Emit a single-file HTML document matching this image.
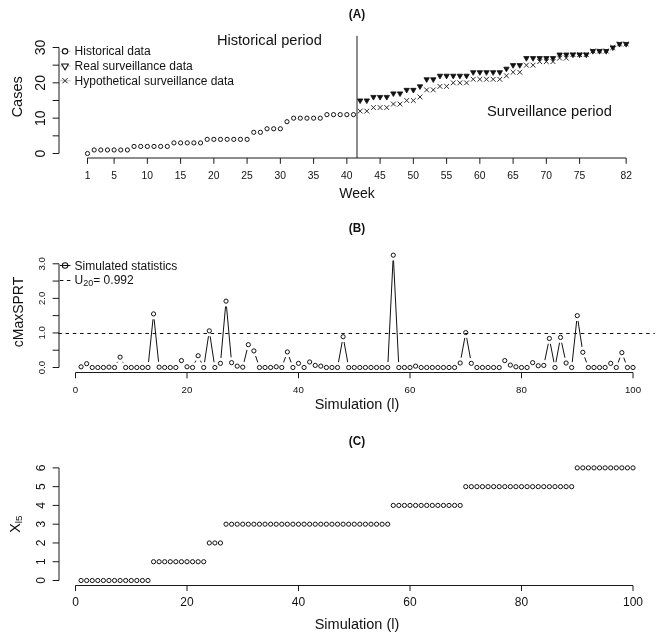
<!DOCTYPE html>
<html><head><meta charset="utf-8"><style>
html,body{margin:0;padding:0;background:#fff;}
body{width:664px;height:641px;overflow:hidden;}
svg{display:block;font-family:"Liberation Sans", sans-serif;filter:grayscale(1);}
</style></head><body>
<svg width="664" height="641" viewBox="0 0 664 641">
<rect width="664" height="641" fill="#fff"/>
<text x="0" y="0" font-size="12.8" text-anchor="middle" font-weight="bold" fill="#111" transform="translate(357.00 17.50) scale(0.92 1)">(A)</text>
<line x1="59.00" y1="153.50" x2="59.00" y2="47.50" stroke="#1a1a1a" stroke-width="1.0"/>
<line x1="52.60" y1="153.50" x2="59.00" y2="153.50" stroke="#1a1a1a" stroke-width="1.0"/>
<line x1="52.60" y1="135.83" x2="59.00" y2="135.83" stroke="#1a1a1a" stroke-width="1.0"/>
<line x1="52.60" y1="118.17" x2="59.00" y2="118.17" stroke="#1a1a1a" stroke-width="1.0"/>
<line x1="52.60" y1="100.50" x2="59.00" y2="100.50" stroke="#1a1a1a" stroke-width="1.0"/>
<line x1="52.60" y1="82.83" x2="59.00" y2="82.83" stroke="#1a1a1a" stroke-width="1.0"/>
<line x1="52.60" y1="65.17" x2="59.00" y2="65.17" stroke="#1a1a1a" stroke-width="1.0"/>
<line x1="52.60" y1="47.50" x2="59.00" y2="47.50" stroke="#1a1a1a" stroke-width="1.0"/>
<text x="45.00" y="153.50" font-size="14" text-anchor="middle" font-weight="normal" fill="#111" transform="rotate(-90 45.00 153.50)">0</text>
<text x="45.00" y="118.17" font-size="14" text-anchor="middle" font-weight="normal" fill="#111" transform="rotate(-90 45.00 118.17)">10</text>
<text x="45.00" y="82.83" font-size="14" text-anchor="middle" font-weight="normal" fill="#111" transform="rotate(-90 45.00 82.83)">20</text>
<text x="45.00" y="47.50" font-size="14" text-anchor="middle" font-weight="normal" fill="#111" transform="rotate(-90 45.00 47.50)">30</text>
<line x1="87.50" y1="158.00" x2="626.15" y2="158.00" stroke="#1a1a1a" stroke-width="1.0"/>
<line x1="87.50" y1="158.00" x2="87.50" y2="163.80" stroke="#1a1a1a" stroke-width="1.0"/>
<text x="87.50" y="179.30" font-size="10.3" text-anchor="middle" font-weight="normal" fill="#111">1</text>
<line x1="114.10" y1="158.00" x2="114.10" y2="163.80" stroke="#1a1a1a" stroke-width="1.0"/>
<text x="114.10" y="179.30" font-size="10.3" text-anchor="middle" font-weight="normal" fill="#111">5</text>
<line x1="147.35" y1="158.00" x2="147.35" y2="163.80" stroke="#1a1a1a" stroke-width="1.0"/>
<text x="147.35" y="179.30" font-size="10.3" text-anchor="middle" font-weight="normal" fill="#111">10</text>
<line x1="180.60" y1="158.00" x2="180.60" y2="163.80" stroke="#1a1a1a" stroke-width="1.0"/>
<text x="180.60" y="179.30" font-size="10.3" text-anchor="middle" font-weight="normal" fill="#111">15</text>
<line x1="213.85" y1="158.00" x2="213.85" y2="163.80" stroke="#1a1a1a" stroke-width="1.0"/>
<text x="213.85" y="179.30" font-size="10.3" text-anchor="middle" font-weight="normal" fill="#111">20</text>
<line x1="247.10" y1="158.00" x2="247.10" y2="163.80" stroke="#1a1a1a" stroke-width="1.0"/>
<text x="247.10" y="179.30" font-size="10.3" text-anchor="middle" font-weight="normal" fill="#111">25</text>
<line x1="280.35" y1="158.00" x2="280.35" y2="163.80" stroke="#1a1a1a" stroke-width="1.0"/>
<text x="280.35" y="179.30" font-size="10.3" text-anchor="middle" font-weight="normal" fill="#111">30</text>
<line x1="313.60" y1="158.00" x2="313.60" y2="163.80" stroke="#1a1a1a" stroke-width="1.0"/>
<text x="313.60" y="179.30" font-size="10.3" text-anchor="middle" font-weight="normal" fill="#111">35</text>
<line x1="346.85" y1="158.00" x2="346.85" y2="163.80" stroke="#1a1a1a" stroke-width="1.0"/>
<text x="346.85" y="179.30" font-size="10.3" text-anchor="middle" font-weight="normal" fill="#111">40</text>
<line x1="380.10" y1="158.00" x2="380.10" y2="163.80" stroke="#1a1a1a" stroke-width="1.0"/>
<text x="380.10" y="179.30" font-size="10.3" text-anchor="middle" font-weight="normal" fill="#111">45</text>
<line x1="413.35" y1="158.00" x2="413.35" y2="163.80" stroke="#1a1a1a" stroke-width="1.0"/>
<text x="413.35" y="179.30" font-size="10.3" text-anchor="middle" font-weight="normal" fill="#111">50</text>
<line x1="446.60" y1="158.00" x2="446.60" y2="163.80" stroke="#1a1a1a" stroke-width="1.0"/>
<text x="446.60" y="179.30" font-size="10.3" text-anchor="middle" font-weight="normal" fill="#111">55</text>
<line x1="479.85" y1="158.00" x2="479.85" y2="163.80" stroke="#1a1a1a" stroke-width="1.0"/>
<text x="479.85" y="179.30" font-size="10.3" text-anchor="middle" font-weight="normal" fill="#111">60</text>
<line x1="513.10" y1="158.00" x2="513.10" y2="163.80" stroke="#1a1a1a" stroke-width="1.0"/>
<text x="513.10" y="179.30" font-size="10.3" text-anchor="middle" font-weight="normal" fill="#111">65</text>
<line x1="546.35" y1="158.00" x2="546.35" y2="163.80" stroke="#1a1a1a" stroke-width="1.0"/>
<text x="546.35" y="179.30" font-size="10.3" text-anchor="middle" font-weight="normal" fill="#111">70</text>
<line x1="579.60" y1="158.00" x2="579.60" y2="163.80" stroke="#1a1a1a" stroke-width="1.0"/>
<text x="579.60" y="179.30" font-size="10.3" text-anchor="middle" font-weight="normal" fill="#111">75</text>
<line x1="626.15" y1="158.00" x2="626.15" y2="163.80" stroke="#1a1a1a" stroke-width="1.0"/>
<text x="626.15" y="179.30" font-size="10.3" text-anchor="middle" font-weight="normal" fill="#111">82</text>
<text x="357.00" y="197.70" font-size="14" text-anchor="middle" font-weight="normal" fill="#111">Week</text>
<text x="22.30" y="96.80" font-size="14.5" text-anchor="middle" font-weight="normal" fill="#111" transform="rotate(-90 22.30 96.80)">Cases</text>
<line x1="357.00" y1="35.80" x2="357.00" y2="158.00" stroke="#1a1a1a" stroke-width="1.0"/>
<text x="216.90" y="44.60" font-size="14.65" text-anchor="start" font-weight="normal" fill="#111">Historical period</text>
<text x="487.00" y="115.50" font-size="14.7" text-anchor="start" font-weight="normal" fill="#111">Surveillance period</text>
<circle cx="87.50" cy="153.50" r="2.1" fill="none" stroke="#111" stroke-width="1.0"/>
<circle cx="94.15" cy="149.97" r="2.1" fill="none" stroke="#111" stroke-width="1.0"/>
<circle cx="100.80" cy="149.97" r="2.1" fill="none" stroke="#111" stroke-width="1.0"/>
<circle cx="107.45" cy="149.97" r="2.1" fill="none" stroke="#111" stroke-width="1.0"/>
<circle cx="114.10" cy="149.97" r="2.1" fill="none" stroke="#111" stroke-width="1.0"/>
<circle cx="120.75" cy="149.97" r="2.1" fill="none" stroke="#111" stroke-width="1.0"/>
<circle cx="127.40" cy="149.97" r="2.1" fill="none" stroke="#111" stroke-width="1.0"/>
<circle cx="134.05" cy="146.43" r="2.1" fill="none" stroke="#111" stroke-width="1.0"/>
<circle cx="140.70" cy="146.43" r="2.1" fill="none" stroke="#111" stroke-width="1.0"/>
<circle cx="147.35" cy="146.43" r="2.1" fill="none" stroke="#111" stroke-width="1.0"/>
<circle cx="154.00" cy="146.43" r="2.1" fill="none" stroke="#111" stroke-width="1.0"/>
<circle cx="160.65" cy="146.43" r="2.1" fill="none" stroke="#111" stroke-width="1.0"/>
<circle cx="167.30" cy="146.43" r="2.1" fill="none" stroke="#111" stroke-width="1.0"/>
<circle cx="173.95" cy="142.90" r="2.1" fill="none" stroke="#111" stroke-width="1.0"/>
<circle cx="180.60" cy="142.90" r="2.1" fill="none" stroke="#111" stroke-width="1.0"/>
<circle cx="187.25" cy="142.90" r="2.1" fill="none" stroke="#111" stroke-width="1.0"/>
<circle cx="193.90" cy="142.90" r="2.1" fill="none" stroke="#111" stroke-width="1.0"/>
<circle cx="200.55" cy="142.90" r="2.1" fill="none" stroke="#111" stroke-width="1.0"/>
<circle cx="207.20" cy="139.37" r="2.1" fill="none" stroke="#111" stroke-width="1.0"/>
<circle cx="213.85" cy="139.37" r="2.1" fill="none" stroke="#111" stroke-width="1.0"/>
<circle cx="220.50" cy="139.37" r="2.1" fill="none" stroke="#111" stroke-width="1.0"/>
<circle cx="227.15" cy="139.37" r="2.1" fill="none" stroke="#111" stroke-width="1.0"/>
<circle cx="233.80" cy="139.37" r="2.1" fill="none" stroke="#111" stroke-width="1.0"/>
<circle cx="240.45" cy="139.37" r="2.1" fill="none" stroke="#111" stroke-width="1.0"/>
<circle cx="247.10" cy="139.37" r="2.1" fill="none" stroke="#111" stroke-width="1.0"/>
<circle cx="253.75" cy="132.30" r="2.1" fill="none" stroke="#111" stroke-width="1.0"/>
<circle cx="260.40" cy="132.30" r="2.1" fill="none" stroke="#111" stroke-width="1.0"/>
<circle cx="267.05" cy="128.77" r="2.1" fill="none" stroke="#111" stroke-width="1.0"/>
<circle cx="273.70" cy="128.77" r="2.1" fill="none" stroke="#111" stroke-width="1.0"/>
<circle cx="280.35" cy="128.77" r="2.1" fill="none" stroke="#111" stroke-width="1.0"/>
<circle cx="287.00" cy="121.70" r="2.1" fill="none" stroke="#111" stroke-width="1.0"/>
<circle cx="293.65" cy="118.17" r="2.1" fill="none" stroke="#111" stroke-width="1.0"/>
<circle cx="300.30" cy="118.17" r="2.1" fill="none" stroke="#111" stroke-width="1.0"/>
<circle cx="306.95" cy="118.17" r="2.1" fill="none" stroke="#111" stroke-width="1.0"/>
<circle cx="313.60" cy="118.17" r="2.1" fill="none" stroke="#111" stroke-width="1.0"/>
<circle cx="320.25" cy="118.17" r="2.1" fill="none" stroke="#111" stroke-width="1.0"/>
<circle cx="326.90" cy="114.63" r="2.1" fill="none" stroke="#111" stroke-width="1.0"/>
<circle cx="333.55" cy="114.63" r="2.1" fill="none" stroke="#111" stroke-width="1.0"/>
<circle cx="340.20" cy="114.63" r="2.1" fill="none" stroke="#111" stroke-width="1.0"/>
<circle cx="346.85" cy="114.63" r="2.1" fill="none" stroke="#111" stroke-width="1.0"/>
<circle cx="353.50" cy="114.63" r="2.1" fill="none" stroke="#111" stroke-width="1.0"/>
<path d="M357.75,108.70 L362.55,113.50 M357.75,113.50 L362.55,108.70" stroke="#222" stroke-width="0.95" fill="none"/>
<path d="M364.40,108.70 L369.20,113.50 M364.40,113.50 L369.20,108.70" stroke="#222" stroke-width="0.95" fill="none"/>
<path d="M371.05,105.17 L375.85,109.97 M371.05,109.97 L375.85,105.17" stroke="#222" stroke-width="0.95" fill="none"/>
<path d="M377.70,105.17 L382.50,109.97 M377.70,109.97 L382.50,105.17" stroke="#222" stroke-width="0.95" fill="none"/>
<path d="M384.35,105.17 L389.15,109.97 M384.35,109.97 L389.15,105.17" stroke="#222" stroke-width="0.95" fill="none"/>
<path d="M391.00,101.63 L395.80,106.43 M391.00,106.43 L395.80,101.63" stroke="#222" stroke-width="0.95" fill="none"/>
<path d="M397.65,101.63 L402.45,106.43 M397.65,106.43 L402.45,101.63" stroke="#222" stroke-width="0.95" fill="none"/>
<path d="M404.30,98.10 L409.10,102.90 M404.30,102.90 L409.10,98.10" stroke="#222" stroke-width="0.95" fill="none"/>
<path d="M410.95,98.10 L415.75,102.90 M410.95,102.90 L415.75,98.10" stroke="#222" stroke-width="0.95" fill="none"/>
<path d="M417.60,94.57 L422.40,99.37 M417.60,99.37 L422.40,94.57" stroke="#222" stroke-width="0.95" fill="none"/>
<path d="M424.25,87.50 L429.05,92.30 M424.25,92.30 L429.05,87.50" stroke="#222" stroke-width="0.95" fill="none"/>
<path d="M430.90,87.50 L435.70,92.30 M430.90,92.30 L435.70,87.50" stroke="#222" stroke-width="0.95" fill="none"/>
<path d="M437.55,83.97 L442.35,88.77 M437.55,88.77 L442.35,83.97" stroke="#222" stroke-width="0.95" fill="none"/>
<path d="M444.20,83.97 L449.00,88.77 M444.20,88.77 L449.00,83.97" stroke="#222" stroke-width="0.95" fill="none"/>
<path d="M450.85,80.43 L455.65,85.23 M450.85,85.23 L455.65,80.43" stroke="#222" stroke-width="0.95" fill="none"/>
<path d="M457.50,80.43 L462.30,85.23 M457.50,85.23 L462.30,80.43" stroke="#222" stroke-width="0.95" fill="none"/>
<path d="M464.15,80.43 L468.95,85.23 M464.15,85.23 L468.95,80.43" stroke="#222" stroke-width="0.95" fill="none"/>
<path d="M470.80,76.90 L475.60,81.70 M470.80,81.70 L475.60,76.90" stroke="#222" stroke-width="0.95" fill="none"/>
<path d="M477.45,76.90 L482.25,81.70 M477.45,81.70 L482.25,76.90" stroke="#222" stroke-width="0.95" fill="none"/>
<path d="M484.10,76.90 L488.90,81.70 M484.10,81.70 L488.90,76.90" stroke="#222" stroke-width="0.95" fill="none"/>
<path d="M490.75,76.90 L495.55,81.70 M490.75,81.70 L495.55,76.90" stroke="#222" stroke-width="0.95" fill="none"/>
<path d="M497.40,76.90 L502.20,81.70 M497.40,81.70 L502.20,76.90" stroke="#222" stroke-width="0.95" fill="none"/>
<path d="M504.05,73.37 L508.85,78.17 M504.05,78.17 L508.85,73.37" stroke="#222" stroke-width="0.95" fill="none"/>
<path d="M510.70,69.83 L515.50,74.63 M510.70,74.63 L515.50,69.83" stroke="#222" stroke-width="0.95" fill="none"/>
<path d="M517.35,69.83 L522.15,74.63 M517.35,74.63 L522.15,69.83" stroke="#222" stroke-width="0.95" fill="none"/>
<path d="M524.00,62.77 L528.80,67.57 M524.00,67.57 L528.80,62.77" stroke="#222" stroke-width="0.95" fill="none"/>
<path d="M530.65,62.77 L535.45,67.57 M530.65,67.57 L535.45,62.77" stroke="#222" stroke-width="0.95" fill="none"/>
<path d="M537.30,59.23 L542.10,64.03 M537.30,64.03 L542.10,59.23" stroke="#222" stroke-width="0.95" fill="none"/>
<path d="M543.95,59.23 L548.75,64.03 M543.95,64.03 L548.75,59.23" stroke="#222" stroke-width="0.95" fill="none"/>
<path d="M550.60,59.23 L555.40,64.03 M550.60,64.03 L555.40,59.23" stroke="#222" stroke-width="0.95" fill="none"/>
<path d="M557.25,55.70 L562.05,60.50 M557.25,60.50 L562.05,55.70" stroke="#222" stroke-width="0.95" fill="none"/>
<path d="M563.90,55.70 L568.70,60.50 M563.90,60.50 L568.70,55.70" stroke="#222" stroke-width="0.95" fill="none"/>
<path d="M570.55,52.17 L575.35,56.97 M570.55,56.97 L575.35,52.17" stroke="#222" stroke-width="0.95" fill="none"/>
<path d="M577.20,52.17 L582.00,56.97 M577.20,56.97 L582.00,52.17" stroke="#222" stroke-width="0.95" fill="none"/>
<path d="M583.85,52.17 L588.65,56.97 M583.85,56.97 L588.65,52.17" stroke="#222" stroke-width="0.95" fill="none"/>
<path d="M590.50,48.63 L595.30,53.43 M590.50,53.43 L595.30,48.63" stroke="#222" stroke-width="0.95" fill="none"/>
<path d="M597.15,48.63 L601.95,53.43 M597.15,53.43 L601.95,48.63" stroke="#222" stroke-width="0.95" fill="none"/>
<path d="M603.80,48.63 L608.60,53.43 M603.80,53.43 L608.60,48.63" stroke="#222" stroke-width="0.95" fill="none"/>
<path d="M610.45,45.10 L615.25,49.90 M610.45,49.90 L615.25,45.10" stroke="#222" stroke-width="0.95" fill="none"/>
<path d="M617.10,41.57 L621.90,46.37 M617.10,46.37 L621.90,41.57" stroke="#222" stroke-width="0.95" fill="none"/>
<path d="M623.75,41.57 L628.55,46.37 M623.75,46.37 L628.55,41.57" stroke="#222" stroke-width="0.95" fill="none"/>
<path d="M357.46,98.95 L362.84,98.95 L360.15,103.61 Z" fill="#111" stroke="#111" stroke-width="0.8" stroke-linejoin="round"/>
<path d="M364.11,98.95 L369.49,98.95 L366.80,103.61 Z" fill="#111" stroke="#111" stroke-width="0.8" stroke-linejoin="round"/>
<path d="M370.76,95.41 L376.14,95.41 L373.45,100.08 Z" fill="#111" stroke="#111" stroke-width="0.8" stroke-linejoin="round"/>
<path d="M377.41,95.41 L382.79,95.41 L380.10,100.08 Z" fill="#111" stroke="#111" stroke-width="0.8" stroke-linejoin="round"/>
<path d="M384.06,95.41 L389.44,95.41 L386.75,100.08 Z" fill="#111" stroke="#111" stroke-width="0.8" stroke-linejoin="round"/>
<path d="M390.71,91.88 L396.09,91.88 L393.40,96.54 Z" fill="#111" stroke="#111" stroke-width="0.8" stroke-linejoin="round"/>
<path d="M397.36,91.88 L402.74,91.88 L400.05,96.54 Z" fill="#111" stroke="#111" stroke-width="0.8" stroke-linejoin="round"/>
<path d="M404.01,88.35 L409.39,88.35 L406.70,93.01 Z" fill="#111" stroke="#111" stroke-width="0.8" stroke-linejoin="round"/>
<path d="M410.66,88.35 L416.04,88.35 L413.35,93.01 Z" fill="#111" stroke="#111" stroke-width="0.8" stroke-linejoin="round"/>
<path d="M417.31,84.81 L422.69,84.81 L420.00,89.48 Z" fill="#111" stroke="#111" stroke-width="0.8" stroke-linejoin="round"/>
<path d="M423.96,77.75 L429.34,77.75 L426.65,82.41 Z" fill="#111" stroke="#111" stroke-width="0.8" stroke-linejoin="round"/>
<path d="M430.61,77.75 L435.99,77.75 L433.30,82.41 Z" fill="#111" stroke="#111" stroke-width="0.8" stroke-linejoin="round"/>
<path d="M437.26,74.21 L442.64,74.21 L439.95,78.88 Z" fill="#111" stroke="#111" stroke-width="0.8" stroke-linejoin="round"/>
<path d="M443.91,74.21 L449.29,74.21 L446.60,78.88 Z" fill="#111" stroke="#111" stroke-width="0.8" stroke-linejoin="round"/>
<path d="M450.56,74.21 L455.94,74.21 L453.25,78.88 Z" fill="#111" stroke="#111" stroke-width="0.8" stroke-linejoin="round"/>
<path d="M457.21,74.21 L462.59,74.21 L459.90,78.88 Z" fill="#111" stroke="#111" stroke-width="0.8" stroke-linejoin="round"/>
<path d="M463.86,74.21 L469.24,74.21 L466.55,78.88 Z" fill="#111" stroke="#111" stroke-width="0.8" stroke-linejoin="round"/>
<path d="M470.51,70.68 L475.89,70.68 L473.20,75.34 Z" fill="#111" stroke="#111" stroke-width="0.8" stroke-linejoin="round"/>
<path d="M477.16,70.68 L482.54,70.68 L479.85,75.34 Z" fill="#111" stroke="#111" stroke-width="0.8" stroke-linejoin="round"/>
<path d="M483.81,70.68 L489.19,70.68 L486.50,75.34 Z" fill="#111" stroke="#111" stroke-width="0.8" stroke-linejoin="round"/>
<path d="M490.46,70.68 L495.84,70.68 L493.15,75.34 Z" fill="#111" stroke="#111" stroke-width="0.8" stroke-linejoin="round"/>
<path d="M497.11,70.68 L502.49,70.68 L499.80,75.34 Z" fill="#111" stroke="#111" stroke-width="0.8" stroke-linejoin="round"/>
<path d="M503.76,67.15 L509.14,67.15 L506.45,71.81 Z" fill="#111" stroke="#111" stroke-width="0.8" stroke-linejoin="round"/>
<path d="M510.41,63.61 L515.79,63.61 L513.10,68.28 Z" fill="#111" stroke="#111" stroke-width="0.8" stroke-linejoin="round"/>
<path d="M517.06,63.61 L522.44,63.61 L519.75,68.28 Z" fill="#111" stroke="#111" stroke-width="0.8" stroke-linejoin="round"/>
<path d="M523.71,56.55 L529.09,56.55 L526.40,61.21 Z" fill="#111" stroke="#111" stroke-width="0.8" stroke-linejoin="round"/>
<path d="M530.36,56.55 L535.74,56.55 L533.05,61.21 Z" fill="#111" stroke="#111" stroke-width="0.8" stroke-linejoin="round"/>
<path d="M537.01,56.55 L542.39,56.55 L539.70,61.21 Z" fill="#111" stroke="#111" stroke-width="0.8" stroke-linejoin="round"/>
<path d="M543.66,56.55 L549.04,56.55 L546.35,61.21 Z" fill="#111" stroke="#111" stroke-width="0.8" stroke-linejoin="round"/>
<path d="M550.31,56.55 L555.69,56.55 L553.00,61.21 Z" fill="#111" stroke="#111" stroke-width="0.8" stroke-linejoin="round"/>
<path d="M556.96,53.01 L562.34,53.01 L559.65,57.68 Z" fill="#111" stroke="#111" stroke-width="0.8" stroke-linejoin="round"/>
<path d="M563.61,53.01 L568.99,53.01 L566.30,57.68 Z" fill="#111" stroke="#111" stroke-width="0.8" stroke-linejoin="round"/>
<path d="M570.26,53.01 L575.64,53.01 L572.95,57.68 Z" fill="#111" stroke="#111" stroke-width="0.8" stroke-linejoin="round"/>
<path d="M576.91,53.01 L582.29,53.01 L579.60,57.68 Z" fill="#111" stroke="#111" stroke-width="0.8" stroke-linejoin="round"/>
<path d="M583.56,53.01 L588.94,53.01 L586.25,57.68 Z" fill="#111" stroke="#111" stroke-width="0.8" stroke-linejoin="round"/>
<path d="M590.21,49.48 L595.59,49.48 L592.90,54.14 Z" fill="#111" stroke="#111" stroke-width="0.8" stroke-linejoin="round"/>
<path d="M596.86,49.48 L602.24,49.48 L599.55,54.14 Z" fill="#111" stroke="#111" stroke-width="0.8" stroke-linejoin="round"/>
<path d="M603.51,49.48 L608.89,49.48 L606.20,54.14 Z" fill="#111" stroke="#111" stroke-width="0.8" stroke-linejoin="round"/>
<path d="M610.16,45.95 L615.54,45.95 L612.85,50.61 Z" fill="#111" stroke="#111" stroke-width="0.8" stroke-linejoin="round"/>
<path d="M616.81,42.41 L622.19,42.41 L619.50,47.08 Z" fill="#111" stroke="#111" stroke-width="0.8" stroke-linejoin="round"/>
<path d="M623.46,42.41 L628.84,42.41 L626.15,47.08 Z" fill="#111" stroke="#111" stroke-width="0.8" stroke-linejoin="round"/>
<line x1="59.50" y1="51.30" x2="70.60" y2="51.30" stroke="#bdbdbd" stroke-width="1.0"/>
<line x1="59.50" y1="66.00" x2="70.60" y2="66.00" stroke="#bdbdbd" stroke-width="1.0"/>
<line x1="59.50" y1="80.80" x2="70.60" y2="80.80" stroke="#bdbdbd" stroke-width="1.0"/>
<circle cx="65.05" cy="51.35" r="2.7" fill="#fff" stroke="#111" stroke-width="1.1"/>
<path d="M61.62,64.02 L68.48,64.02 L65.05,69.97 Z" fill="#fff" stroke="#111" stroke-width="1.1" stroke-linejoin="round"/>
<path d="M62.45,78.10 L67.65,83.30 M62.45,83.30 L67.65,78.10" stroke="#222" stroke-width="1.0" fill="none"/>
<text x="74.60" y="55.30" font-size="12" text-anchor="start" font-weight="normal" fill="#111">Historical data</text>
<text x="74.60" y="69.90" font-size="12" text-anchor="start" font-weight="normal" fill="#111">Real surveillance data</text>
<text x="74.60" y="84.60" font-size="12" text-anchor="start" font-weight="normal" fill="#111">Hypothetical surveillance data</text>
<text x="0" y="0" font-size="12.8" text-anchor="middle" font-weight="bold" fill="#111" transform="translate(357.00 231.60) scale(0.92 1)">(B)</text>
<line x1="59.00" y1="367.50" x2="59.00" y2="263.79" stroke="#1a1a1a" stroke-width="1.0"/>
<line x1="52.60" y1="367.50" x2="59.00" y2="367.50" stroke="#1a1a1a" stroke-width="1.0"/>
<line x1="52.60" y1="350.21" x2="59.00" y2="350.21" stroke="#1a1a1a" stroke-width="1.0"/>
<line x1="52.60" y1="332.93" x2="59.00" y2="332.93" stroke="#1a1a1a" stroke-width="1.0"/>
<line x1="52.60" y1="315.64" x2="59.00" y2="315.64" stroke="#1a1a1a" stroke-width="1.0"/>
<line x1="52.60" y1="298.36" x2="59.00" y2="298.36" stroke="#1a1a1a" stroke-width="1.0"/>
<line x1="52.60" y1="281.07" x2="59.00" y2="281.07" stroke="#1a1a1a" stroke-width="1.0"/>
<line x1="52.60" y1="263.79" x2="59.00" y2="263.79" stroke="#1a1a1a" stroke-width="1.0"/>
<text x="45.00" y="367.50" font-size="9.6" text-anchor="middle" font-weight="normal" fill="#111" transform="rotate(-90 45.00 367.50)">0.0</text>
<text x="45.00" y="332.93" font-size="9.6" text-anchor="middle" font-weight="normal" fill="#111" transform="rotate(-90 45.00 332.93)">1.0</text>
<text x="45.00" y="298.36" font-size="9.6" text-anchor="middle" font-weight="normal" fill="#111" transform="rotate(-90 45.00 298.36)">2.0</text>
<text x="45.00" y="263.79" font-size="9.6" text-anchor="middle" font-weight="normal" fill="#111" transform="rotate(-90 45.00 263.79)">3.0</text>
<line x1="75.50" y1="372.50" x2="633.00" y2="372.50" stroke="#1a1a1a" stroke-width="1.0"/>
<line x1="75.50" y1="372.50" x2="75.50" y2="378.30" stroke="#1a1a1a" stroke-width="1.0"/>
<text x="75.50" y="393.00" font-size="9.7" text-anchor="middle" font-weight="normal" fill="#111">0</text>
<line x1="187.00" y1="372.50" x2="187.00" y2="378.30" stroke="#1a1a1a" stroke-width="1.0"/>
<text x="187.00" y="393.00" font-size="9.7" text-anchor="middle" font-weight="normal" fill="#111">20</text>
<line x1="298.50" y1="372.50" x2="298.50" y2="378.30" stroke="#1a1a1a" stroke-width="1.0"/>
<text x="298.50" y="393.00" font-size="9.7" text-anchor="middle" font-weight="normal" fill="#111">40</text>
<line x1="410.00" y1="372.50" x2="410.00" y2="378.30" stroke="#1a1a1a" stroke-width="1.0"/>
<text x="410.00" y="393.00" font-size="9.7" text-anchor="middle" font-weight="normal" fill="#111">60</text>
<line x1="521.50" y1="372.50" x2="521.50" y2="378.30" stroke="#1a1a1a" stroke-width="1.0"/>
<text x="521.50" y="393.00" font-size="9.7" text-anchor="middle" font-weight="normal" fill="#111">80</text>
<line x1="633.00" y1="372.50" x2="633.00" y2="378.30" stroke="#1a1a1a" stroke-width="1.0"/>
<text x="633.00" y="393.00" font-size="9.7" text-anchor="middle" font-weight="normal" fill="#111">100</text>
<text x="357.00" y="408.50" font-size="14.5" text-anchor="middle" font-weight="normal" fill="#111">Simulation (l)</text>
<text x="23.00" y="312.00" font-size="14" text-anchor="middle" font-weight="normal" fill="#111" transform="rotate(-90 23.00 312.00)">cMaxSPRT</text>
<line x1="58.30" y1="333.50" x2="654.80" y2="333.50" stroke="#111" stroke-width="1.0" stroke-dasharray="3.5 3.757"/>
<path d="M117.08,362.74L117.54,361.89M122.66,361.89L123.12,362.74M148.53,362.13L152.99,319.29M154.11,319.29L158.56,361.78M194.89,362.62L195.84,360.63M200.46,360.63L201.41,362.62M204.54,362.16L208.49,336.19M210.11,336.19L214.06,362.16M220.93,357.97L225.54,306.50M226.51,306.50L231.11,357.28M244.05,361.91L247.02,349.92M255.62,356.03L257.76,362.38M283.60,362.42L285.53,357.03M289.17,357.03L291.10,362.42M338.49,362.19L342.14,342.05M344.06,342.05L347.71,362.19M387.97,362.11L393.01,260.54M393.54,260.54L398.58,362.11M461.15,357.69L464.78,337.90M466.71,337.90L470.36,358.04M544.89,360.14L548.28,343.75M550.39,343.76L553.93,362.20M555.93,362.19L559.54,342.73M561.67,342.70L564.95,357.73M572.25,362.13L576.67,321.01M578.06,320.98L582.01,346.95M584.68,357.36L586.54,362.43M618.17,362.44L619.95,357.69M623.75,357.69L625.53,362.44" stroke="#111" stroke-width="1.0" fill="none"/>
<circle cx="81.08" cy="366.81" r="2.1" fill="none" stroke="#111" stroke-width="1.0"/>
<circle cx="86.65" cy="363.70" r="2.1" fill="none" stroke="#111" stroke-width="1.0"/>
<circle cx="92.22" cy="367.50" r="2.1" fill="none" stroke="#111" stroke-width="1.0"/>
<circle cx="97.80" cy="367.50" r="2.1" fill="none" stroke="#111" stroke-width="1.0"/>
<circle cx="103.38" cy="367.50" r="2.1" fill="none" stroke="#111" stroke-width="1.0"/>
<circle cx="108.95" cy="367.15" r="2.1" fill="none" stroke="#111" stroke-width="1.0"/>
<circle cx="114.53" cy="367.50" r="2.1" fill="none" stroke="#111" stroke-width="1.0"/>
<circle cx="120.10" cy="357.13" r="2.1" fill="none" stroke="#111" stroke-width="1.0"/>
<circle cx="125.68" cy="367.50" r="2.1" fill="none" stroke="#111" stroke-width="1.0"/>
<circle cx="131.25" cy="367.50" r="2.1" fill="none" stroke="#111" stroke-width="1.0"/>
<circle cx="136.82" cy="367.50" r="2.1" fill="none" stroke="#111" stroke-width="1.0"/>
<circle cx="142.40" cy="367.50" r="2.1" fill="none" stroke="#111" stroke-width="1.0"/>
<circle cx="147.98" cy="367.50" r="2.1" fill="none" stroke="#111" stroke-width="1.0"/>
<circle cx="153.55" cy="313.92" r="2.1" fill="none" stroke="#111" stroke-width="1.0"/>
<circle cx="159.12" cy="367.15" r="2.1" fill="none" stroke="#111" stroke-width="1.0"/>
<circle cx="164.70" cy="367.50" r="2.1" fill="none" stroke="#111" stroke-width="1.0"/>
<circle cx="170.28" cy="367.50" r="2.1" fill="none" stroke="#111" stroke-width="1.0"/>
<circle cx="175.85" cy="367.50" r="2.1" fill="none" stroke="#111" stroke-width="1.0"/>
<circle cx="181.43" cy="360.59" r="2.1" fill="none" stroke="#111" stroke-width="1.0"/>
<circle cx="187.00" cy="366.81" r="2.1" fill="none" stroke="#111" stroke-width="1.0"/>
<circle cx="192.57" cy="367.50" r="2.1" fill="none" stroke="#111" stroke-width="1.0"/>
<circle cx="198.15" cy="355.75" r="2.1" fill="none" stroke="#111" stroke-width="1.0"/>
<circle cx="203.72" cy="367.50" r="2.1" fill="none" stroke="#111" stroke-width="1.0"/>
<circle cx="209.30" cy="330.86" r="2.1" fill="none" stroke="#111" stroke-width="1.0"/>
<circle cx="214.88" cy="367.50" r="2.1" fill="none" stroke="#111" stroke-width="1.0"/>
<circle cx="220.45" cy="363.35" r="2.1" fill="none" stroke="#111" stroke-width="1.0"/>
<circle cx="226.03" cy="301.13" r="2.1" fill="none" stroke="#111" stroke-width="1.0"/>
<circle cx="231.60" cy="362.66" r="2.1" fill="none" stroke="#111" stroke-width="1.0"/>
<circle cx="237.18" cy="366.12" r="2.1" fill="none" stroke="#111" stroke-width="1.0"/>
<circle cx="242.75" cy="367.15" r="2.1" fill="none" stroke="#111" stroke-width="1.0"/>
<circle cx="248.33" cy="344.68" r="2.1" fill="none" stroke="#111" stroke-width="1.0"/>
<circle cx="253.90" cy="350.91" r="2.1" fill="none" stroke="#111" stroke-width="1.0"/>
<circle cx="259.48" cy="367.50" r="2.1" fill="none" stroke="#111" stroke-width="1.0"/>
<circle cx="265.05" cy="367.50" r="2.1" fill="none" stroke="#111" stroke-width="1.0"/>
<circle cx="270.62" cy="367.50" r="2.1" fill="none" stroke="#111" stroke-width="1.0"/>
<circle cx="276.20" cy="366.81" r="2.1" fill="none" stroke="#111" stroke-width="1.0"/>
<circle cx="281.77" cy="367.50" r="2.1" fill="none" stroke="#111" stroke-width="1.0"/>
<circle cx="287.35" cy="351.94" r="2.1" fill="none" stroke="#111" stroke-width="1.0"/>
<circle cx="292.93" cy="367.50" r="2.1" fill="none" stroke="#111" stroke-width="1.0"/>
<circle cx="298.50" cy="363.35" r="2.1" fill="none" stroke="#111" stroke-width="1.0"/>
<circle cx="304.08" cy="367.50" r="2.1" fill="none" stroke="#111" stroke-width="1.0"/>
<circle cx="309.65" cy="361.97" r="2.1" fill="none" stroke="#111" stroke-width="1.0"/>
<circle cx="315.23" cy="365.43" r="2.1" fill="none" stroke="#111" stroke-width="1.0"/>
<circle cx="320.80" cy="366.12" r="2.1" fill="none" stroke="#111" stroke-width="1.0"/>
<circle cx="326.38" cy="367.50" r="2.1" fill="none" stroke="#111" stroke-width="1.0"/>
<circle cx="331.95" cy="367.50" r="2.1" fill="none" stroke="#111" stroke-width="1.0"/>
<circle cx="337.53" cy="367.50" r="2.1" fill="none" stroke="#111" stroke-width="1.0"/>
<circle cx="343.10" cy="336.73" r="2.1" fill="none" stroke="#111" stroke-width="1.0"/>
<circle cx="348.68" cy="367.50" r="2.1" fill="none" stroke="#111" stroke-width="1.0"/>
<circle cx="354.25" cy="367.50" r="2.1" fill="none" stroke="#111" stroke-width="1.0"/>
<circle cx="359.82" cy="367.50" r="2.1" fill="none" stroke="#111" stroke-width="1.0"/>
<circle cx="365.40" cy="367.50" r="2.1" fill="none" stroke="#111" stroke-width="1.0"/>
<circle cx="370.98" cy="367.50" r="2.1" fill="none" stroke="#111" stroke-width="1.0"/>
<circle cx="376.55" cy="367.50" r="2.1" fill="none" stroke="#111" stroke-width="1.0"/>
<circle cx="382.12" cy="367.50" r="2.1" fill="none" stroke="#111" stroke-width="1.0"/>
<circle cx="387.70" cy="367.50" r="2.1" fill="none" stroke="#111" stroke-width="1.0"/>
<circle cx="393.28" cy="255.15" r="2.1" fill="none" stroke="#111" stroke-width="1.0"/>
<circle cx="398.85" cy="367.50" r="2.1" fill="none" stroke="#111" stroke-width="1.0"/>
<circle cx="404.43" cy="367.50" r="2.1" fill="none" stroke="#111" stroke-width="1.0"/>
<circle cx="410.00" cy="367.50" r="2.1" fill="none" stroke="#111" stroke-width="1.0"/>
<circle cx="415.57" cy="366.12" r="2.1" fill="none" stroke="#111" stroke-width="1.0"/>
<circle cx="421.15" cy="367.50" r="2.1" fill="none" stroke="#111" stroke-width="1.0"/>
<circle cx="426.73" cy="367.50" r="2.1" fill="none" stroke="#111" stroke-width="1.0"/>
<circle cx="432.30" cy="367.50" r="2.1" fill="none" stroke="#111" stroke-width="1.0"/>
<circle cx="437.88" cy="367.50" r="2.1" fill="none" stroke="#111" stroke-width="1.0"/>
<circle cx="443.45" cy="367.50" r="2.1" fill="none" stroke="#111" stroke-width="1.0"/>
<circle cx="449.03" cy="367.50" r="2.1" fill="none" stroke="#111" stroke-width="1.0"/>
<circle cx="454.60" cy="367.50" r="2.1" fill="none" stroke="#111" stroke-width="1.0"/>
<circle cx="460.18" cy="363.01" r="2.1" fill="none" stroke="#111" stroke-width="1.0"/>
<circle cx="465.75" cy="332.58" r="2.1" fill="none" stroke="#111" stroke-width="1.0"/>
<circle cx="471.32" cy="363.35" r="2.1" fill="none" stroke="#111" stroke-width="1.0"/>
<circle cx="476.90" cy="367.50" r="2.1" fill="none" stroke="#111" stroke-width="1.0"/>
<circle cx="482.48" cy="367.50" r="2.1" fill="none" stroke="#111" stroke-width="1.0"/>
<circle cx="488.05" cy="367.50" r="2.1" fill="none" stroke="#111" stroke-width="1.0"/>
<circle cx="493.62" cy="367.50" r="2.1" fill="none" stroke="#111" stroke-width="1.0"/>
<circle cx="499.20" cy="367.50" r="2.1" fill="none" stroke="#111" stroke-width="1.0"/>
<circle cx="504.78" cy="360.59" r="2.1" fill="none" stroke="#111" stroke-width="1.0"/>
<circle cx="510.35" cy="365.08" r="2.1" fill="none" stroke="#111" stroke-width="1.0"/>
<circle cx="515.92" cy="366.81" r="2.1" fill="none" stroke="#111" stroke-width="1.0"/>
<circle cx="521.50" cy="367.50" r="2.1" fill="none" stroke="#111" stroke-width="1.0"/>
<circle cx="527.08" cy="367.50" r="2.1" fill="none" stroke="#111" stroke-width="1.0"/>
<circle cx="532.65" cy="362.66" r="2.1" fill="none" stroke="#111" stroke-width="1.0"/>
<circle cx="538.23" cy="365.77" r="2.1" fill="none" stroke="#111" stroke-width="1.0"/>
<circle cx="543.80" cy="365.43" r="2.1" fill="none" stroke="#111" stroke-width="1.0"/>
<circle cx="549.38" cy="338.46" r="2.1" fill="none" stroke="#111" stroke-width="1.0"/>
<circle cx="554.95" cy="367.50" r="2.1" fill="none" stroke="#111" stroke-width="1.0"/>
<circle cx="560.53" cy="337.42" r="2.1" fill="none" stroke="#111" stroke-width="1.0"/>
<circle cx="566.10" cy="363.01" r="2.1" fill="none" stroke="#111" stroke-width="1.0"/>
<circle cx="571.67" cy="367.50" r="2.1" fill="none" stroke="#111" stroke-width="1.0"/>
<circle cx="577.25" cy="315.64" r="2.1" fill="none" stroke="#111" stroke-width="1.0"/>
<circle cx="582.83" cy="352.29" r="2.1" fill="none" stroke="#111" stroke-width="1.0"/>
<circle cx="588.40" cy="367.50" r="2.1" fill="none" stroke="#111" stroke-width="1.0"/>
<circle cx="593.98" cy="367.50" r="2.1" fill="none" stroke="#111" stroke-width="1.0"/>
<circle cx="599.55" cy="367.50" r="2.1" fill="none" stroke="#111" stroke-width="1.0"/>
<circle cx="605.12" cy="367.50" r="2.1" fill="none" stroke="#111" stroke-width="1.0"/>
<circle cx="610.70" cy="363.35" r="2.1" fill="none" stroke="#111" stroke-width="1.0"/>
<circle cx="616.27" cy="367.50" r="2.1" fill="none" stroke="#111" stroke-width="1.0"/>
<circle cx="621.85" cy="352.63" r="2.1" fill="none" stroke="#111" stroke-width="1.0"/>
<circle cx="627.43" cy="367.50" r="2.1" fill="none" stroke="#111" stroke-width="1.0"/>
<circle cx="633.00" cy="367.50" r="2.1" fill="none" stroke="#111" stroke-width="1.0"/>
<line x1="59.90" y1="265.50" x2="70.50" y2="265.50" stroke="#111" stroke-width="1.0"/>
<circle cx="65.07" cy="265.50" r="2.75" fill="none" stroke="#111" stroke-width="1.05"/>
<line x1="59.90" y1="280.50" x2="70.50" y2="280.50" stroke="#111" stroke-width="1.0" stroke-dasharray="3.5 3.5"/>
<text x="74.60" y="269.80" font-size="12" text-anchor="start" font-weight="normal" fill="#111">Simulated statistics</text>
<text x="74.6" y="283.6" font-size="12" fill="#111">U<tspan font-size="9" dy="2.2">20</tspan><tspan dy="-2.2">= 0.992</tspan></text>
<text x="0" y="0" font-size="12.8" text-anchor="middle" font-weight="bold" fill="#111" transform="translate(357.00 444.60) scale(0.92 1)">(C)</text>
<line x1="59.00" y1="580.50" x2="59.00" y2="467.88" stroke="#1a1a1a" stroke-width="1.0"/>
<line x1="52.60" y1="580.50" x2="59.00" y2="580.50" stroke="#1a1a1a" stroke-width="1.0"/>
<text x="45.00" y="580.50" font-size="12" text-anchor="middle" font-weight="normal" fill="#111" transform="rotate(-90 45.00 580.50)">0</text>
<line x1="52.60" y1="561.73" x2="59.00" y2="561.73" stroke="#1a1a1a" stroke-width="1.0"/>
<text x="45.00" y="561.73" font-size="12" text-anchor="middle" font-weight="normal" fill="#111" transform="rotate(-90 45.00 561.73)">1</text>
<line x1="52.60" y1="542.96" x2="59.00" y2="542.96" stroke="#1a1a1a" stroke-width="1.0"/>
<text x="45.00" y="542.96" font-size="12" text-anchor="middle" font-weight="normal" fill="#111" transform="rotate(-90 45.00 542.96)">2</text>
<line x1="52.60" y1="524.19" x2="59.00" y2="524.19" stroke="#1a1a1a" stroke-width="1.0"/>
<text x="45.00" y="524.19" font-size="12" text-anchor="middle" font-weight="normal" fill="#111" transform="rotate(-90 45.00 524.19)">3</text>
<line x1="52.60" y1="505.42" x2="59.00" y2="505.42" stroke="#1a1a1a" stroke-width="1.0"/>
<text x="45.00" y="505.42" font-size="12" text-anchor="middle" font-weight="normal" fill="#111" transform="rotate(-90 45.00 505.42)">4</text>
<line x1="52.60" y1="486.65" x2="59.00" y2="486.65" stroke="#1a1a1a" stroke-width="1.0"/>
<text x="45.00" y="486.65" font-size="12" text-anchor="middle" font-weight="normal" fill="#111" transform="rotate(-90 45.00 486.65)">5</text>
<line x1="52.60" y1="467.88" x2="59.00" y2="467.88" stroke="#1a1a1a" stroke-width="1.0"/>
<text x="45.00" y="467.88" font-size="12" text-anchor="middle" font-weight="normal" fill="#111" transform="rotate(-90 45.00 467.88)">6</text>
<line x1="75.50" y1="585.50" x2="633.00" y2="585.50" stroke="#1a1a1a" stroke-width="1.0"/>
<line x1="75.50" y1="585.50" x2="75.50" y2="591.00" stroke="#1a1a1a" stroke-width="1.0"/>
<text x="75.50" y="606.30" font-size="12" text-anchor="middle" font-weight="normal" fill="#111">0</text>
<line x1="187.00" y1="585.50" x2="187.00" y2="591.00" stroke="#1a1a1a" stroke-width="1.0"/>
<text x="187.00" y="606.30" font-size="12" text-anchor="middle" font-weight="normal" fill="#111">20</text>
<line x1="298.50" y1="585.50" x2="298.50" y2="591.00" stroke="#1a1a1a" stroke-width="1.0"/>
<text x="298.50" y="606.30" font-size="12" text-anchor="middle" font-weight="normal" fill="#111">40</text>
<line x1="410.00" y1="585.50" x2="410.00" y2="591.00" stroke="#1a1a1a" stroke-width="1.0"/>
<text x="410.00" y="606.30" font-size="12" text-anchor="middle" font-weight="normal" fill="#111">60</text>
<line x1="521.50" y1="585.50" x2="521.50" y2="591.00" stroke="#1a1a1a" stroke-width="1.0"/>
<text x="521.50" y="606.30" font-size="12" text-anchor="middle" font-weight="normal" fill="#111">80</text>
<line x1="633.00" y1="585.50" x2="633.00" y2="591.00" stroke="#1a1a1a" stroke-width="1.0"/>
<text x="633.00" y="606.30" font-size="12" text-anchor="middle" font-weight="normal" fill="#111">100</text>
<text x="357.00" y="628.50" font-size="14.5" text-anchor="middle" font-weight="normal" fill="#111">Simulation (l)</text>
<text x="19.7" y="524.2" font-size="14.5" fill="#111" text-anchor="middle" transform="rotate(-90 19.7 524.2)">X<tspan font-size="9.8" dy="2.2">l5</tspan></text>
<circle cx="81.08" cy="580.50" r="2.1" fill="none" stroke="#111" stroke-width="1.0"/>
<circle cx="86.65" cy="580.50" r="2.1" fill="none" stroke="#111" stroke-width="1.0"/>
<circle cx="92.22" cy="580.50" r="2.1" fill="none" stroke="#111" stroke-width="1.0"/>
<circle cx="97.80" cy="580.50" r="2.1" fill="none" stroke="#111" stroke-width="1.0"/>
<circle cx="103.38" cy="580.50" r="2.1" fill="none" stroke="#111" stroke-width="1.0"/>
<circle cx="108.95" cy="580.50" r="2.1" fill="none" stroke="#111" stroke-width="1.0"/>
<circle cx="114.53" cy="580.50" r="2.1" fill="none" stroke="#111" stroke-width="1.0"/>
<circle cx="120.10" cy="580.50" r="2.1" fill="none" stroke="#111" stroke-width="1.0"/>
<circle cx="125.68" cy="580.50" r="2.1" fill="none" stroke="#111" stroke-width="1.0"/>
<circle cx="131.25" cy="580.50" r="2.1" fill="none" stroke="#111" stroke-width="1.0"/>
<circle cx="136.82" cy="580.50" r="2.1" fill="none" stroke="#111" stroke-width="1.0"/>
<circle cx="142.40" cy="580.50" r="2.1" fill="none" stroke="#111" stroke-width="1.0"/>
<circle cx="147.98" cy="580.50" r="2.1" fill="none" stroke="#111" stroke-width="1.0"/>
<circle cx="153.55" cy="561.73" r="2.1" fill="none" stroke="#111" stroke-width="1.0"/>
<circle cx="159.12" cy="561.73" r="2.1" fill="none" stroke="#111" stroke-width="1.0"/>
<circle cx="164.70" cy="561.73" r="2.1" fill="none" stroke="#111" stroke-width="1.0"/>
<circle cx="170.28" cy="561.73" r="2.1" fill="none" stroke="#111" stroke-width="1.0"/>
<circle cx="175.85" cy="561.73" r="2.1" fill="none" stroke="#111" stroke-width="1.0"/>
<circle cx="181.43" cy="561.73" r="2.1" fill="none" stroke="#111" stroke-width="1.0"/>
<circle cx="187.00" cy="561.73" r="2.1" fill="none" stroke="#111" stroke-width="1.0"/>
<circle cx="192.57" cy="561.73" r="2.1" fill="none" stroke="#111" stroke-width="1.0"/>
<circle cx="198.15" cy="561.73" r="2.1" fill="none" stroke="#111" stroke-width="1.0"/>
<circle cx="203.72" cy="561.73" r="2.1" fill="none" stroke="#111" stroke-width="1.0"/>
<circle cx="209.30" cy="542.96" r="2.1" fill="none" stroke="#111" stroke-width="1.0"/>
<circle cx="214.88" cy="542.96" r="2.1" fill="none" stroke="#111" stroke-width="1.0"/>
<circle cx="220.45" cy="542.96" r="2.1" fill="none" stroke="#111" stroke-width="1.0"/>
<circle cx="226.03" cy="524.19" r="2.1" fill="none" stroke="#111" stroke-width="1.0"/>
<circle cx="231.60" cy="524.19" r="2.1" fill="none" stroke="#111" stroke-width="1.0"/>
<circle cx="237.18" cy="524.19" r="2.1" fill="none" stroke="#111" stroke-width="1.0"/>
<circle cx="242.75" cy="524.19" r="2.1" fill="none" stroke="#111" stroke-width="1.0"/>
<circle cx="248.33" cy="524.19" r="2.1" fill="none" stroke="#111" stroke-width="1.0"/>
<circle cx="253.90" cy="524.19" r="2.1" fill="none" stroke="#111" stroke-width="1.0"/>
<circle cx="259.48" cy="524.19" r="2.1" fill="none" stroke="#111" stroke-width="1.0"/>
<circle cx="265.05" cy="524.19" r="2.1" fill="none" stroke="#111" stroke-width="1.0"/>
<circle cx="270.62" cy="524.19" r="2.1" fill="none" stroke="#111" stroke-width="1.0"/>
<circle cx="276.20" cy="524.19" r="2.1" fill="none" stroke="#111" stroke-width="1.0"/>
<circle cx="281.77" cy="524.19" r="2.1" fill="none" stroke="#111" stroke-width="1.0"/>
<circle cx="287.35" cy="524.19" r="2.1" fill="none" stroke="#111" stroke-width="1.0"/>
<circle cx="292.93" cy="524.19" r="2.1" fill="none" stroke="#111" stroke-width="1.0"/>
<circle cx="298.50" cy="524.19" r="2.1" fill="none" stroke="#111" stroke-width="1.0"/>
<circle cx="304.08" cy="524.19" r="2.1" fill="none" stroke="#111" stroke-width="1.0"/>
<circle cx="309.65" cy="524.19" r="2.1" fill="none" stroke="#111" stroke-width="1.0"/>
<circle cx="315.23" cy="524.19" r="2.1" fill="none" stroke="#111" stroke-width="1.0"/>
<circle cx="320.80" cy="524.19" r="2.1" fill="none" stroke="#111" stroke-width="1.0"/>
<circle cx="326.38" cy="524.19" r="2.1" fill="none" stroke="#111" stroke-width="1.0"/>
<circle cx="331.95" cy="524.19" r="2.1" fill="none" stroke="#111" stroke-width="1.0"/>
<circle cx="337.53" cy="524.19" r="2.1" fill="none" stroke="#111" stroke-width="1.0"/>
<circle cx="343.10" cy="524.19" r="2.1" fill="none" stroke="#111" stroke-width="1.0"/>
<circle cx="348.68" cy="524.19" r="2.1" fill="none" stroke="#111" stroke-width="1.0"/>
<circle cx="354.25" cy="524.19" r="2.1" fill="none" stroke="#111" stroke-width="1.0"/>
<circle cx="359.82" cy="524.19" r="2.1" fill="none" stroke="#111" stroke-width="1.0"/>
<circle cx="365.40" cy="524.19" r="2.1" fill="none" stroke="#111" stroke-width="1.0"/>
<circle cx="370.98" cy="524.19" r="2.1" fill="none" stroke="#111" stroke-width="1.0"/>
<circle cx="376.55" cy="524.19" r="2.1" fill="none" stroke="#111" stroke-width="1.0"/>
<circle cx="382.12" cy="524.19" r="2.1" fill="none" stroke="#111" stroke-width="1.0"/>
<circle cx="387.70" cy="524.19" r="2.1" fill="none" stroke="#111" stroke-width="1.0"/>
<circle cx="393.28" cy="505.42" r="2.1" fill="none" stroke="#111" stroke-width="1.0"/>
<circle cx="398.85" cy="505.42" r="2.1" fill="none" stroke="#111" stroke-width="1.0"/>
<circle cx="404.43" cy="505.42" r="2.1" fill="none" stroke="#111" stroke-width="1.0"/>
<circle cx="410.00" cy="505.42" r="2.1" fill="none" stroke="#111" stroke-width="1.0"/>
<circle cx="415.57" cy="505.42" r="2.1" fill="none" stroke="#111" stroke-width="1.0"/>
<circle cx="421.15" cy="505.42" r="2.1" fill="none" stroke="#111" stroke-width="1.0"/>
<circle cx="426.73" cy="505.42" r="2.1" fill="none" stroke="#111" stroke-width="1.0"/>
<circle cx="432.30" cy="505.42" r="2.1" fill="none" stroke="#111" stroke-width="1.0"/>
<circle cx="437.88" cy="505.42" r="2.1" fill="none" stroke="#111" stroke-width="1.0"/>
<circle cx="443.45" cy="505.42" r="2.1" fill="none" stroke="#111" stroke-width="1.0"/>
<circle cx="449.03" cy="505.42" r="2.1" fill="none" stroke="#111" stroke-width="1.0"/>
<circle cx="454.60" cy="505.42" r="2.1" fill="none" stroke="#111" stroke-width="1.0"/>
<circle cx="460.18" cy="505.42" r="2.1" fill="none" stroke="#111" stroke-width="1.0"/>
<circle cx="465.75" cy="486.65" r="2.1" fill="none" stroke="#111" stroke-width="1.0"/>
<circle cx="471.32" cy="486.65" r="2.1" fill="none" stroke="#111" stroke-width="1.0"/>
<circle cx="476.90" cy="486.65" r="2.1" fill="none" stroke="#111" stroke-width="1.0"/>
<circle cx="482.48" cy="486.65" r="2.1" fill="none" stroke="#111" stroke-width="1.0"/>
<circle cx="488.05" cy="486.65" r="2.1" fill="none" stroke="#111" stroke-width="1.0"/>
<circle cx="493.62" cy="486.65" r="2.1" fill="none" stroke="#111" stroke-width="1.0"/>
<circle cx="499.20" cy="486.65" r="2.1" fill="none" stroke="#111" stroke-width="1.0"/>
<circle cx="504.78" cy="486.65" r="2.1" fill="none" stroke="#111" stroke-width="1.0"/>
<circle cx="510.35" cy="486.65" r="2.1" fill="none" stroke="#111" stroke-width="1.0"/>
<circle cx="515.92" cy="486.65" r="2.1" fill="none" stroke="#111" stroke-width="1.0"/>
<circle cx="521.50" cy="486.65" r="2.1" fill="none" stroke="#111" stroke-width="1.0"/>
<circle cx="527.08" cy="486.65" r="2.1" fill="none" stroke="#111" stroke-width="1.0"/>
<circle cx="532.65" cy="486.65" r="2.1" fill="none" stroke="#111" stroke-width="1.0"/>
<circle cx="538.23" cy="486.65" r="2.1" fill="none" stroke="#111" stroke-width="1.0"/>
<circle cx="543.80" cy="486.65" r="2.1" fill="none" stroke="#111" stroke-width="1.0"/>
<circle cx="549.38" cy="486.65" r="2.1" fill="none" stroke="#111" stroke-width="1.0"/>
<circle cx="554.95" cy="486.65" r="2.1" fill="none" stroke="#111" stroke-width="1.0"/>
<circle cx="560.53" cy="486.65" r="2.1" fill="none" stroke="#111" stroke-width="1.0"/>
<circle cx="566.10" cy="486.65" r="2.1" fill="none" stroke="#111" stroke-width="1.0"/>
<circle cx="571.67" cy="486.65" r="2.1" fill="none" stroke="#111" stroke-width="1.0"/>
<circle cx="577.25" cy="467.88" r="2.1" fill="none" stroke="#111" stroke-width="1.0"/>
<circle cx="582.83" cy="467.88" r="2.1" fill="none" stroke="#111" stroke-width="1.0"/>
<circle cx="588.40" cy="467.88" r="2.1" fill="none" stroke="#111" stroke-width="1.0"/>
<circle cx="593.98" cy="467.88" r="2.1" fill="none" stroke="#111" stroke-width="1.0"/>
<circle cx="599.55" cy="467.88" r="2.1" fill="none" stroke="#111" stroke-width="1.0"/>
<circle cx="605.12" cy="467.88" r="2.1" fill="none" stroke="#111" stroke-width="1.0"/>
<circle cx="610.70" cy="467.88" r="2.1" fill="none" stroke="#111" stroke-width="1.0"/>
<circle cx="616.27" cy="467.88" r="2.1" fill="none" stroke="#111" stroke-width="1.0"/>
<circle cx="621.85" cy="467.88" r="2.1" fill="none" stroke="#111" stroke-width="1.0"/>
<circle cx="627.43" cy="467.88" r="2.1" fill="none" stroke="#111" stroke-width="1.0"/>
<circle cx="633.00" cy="467.88" r="2.1" fill="none" stroke="#111" stroke-width="1.0"/>
</svg>
</body></html>
